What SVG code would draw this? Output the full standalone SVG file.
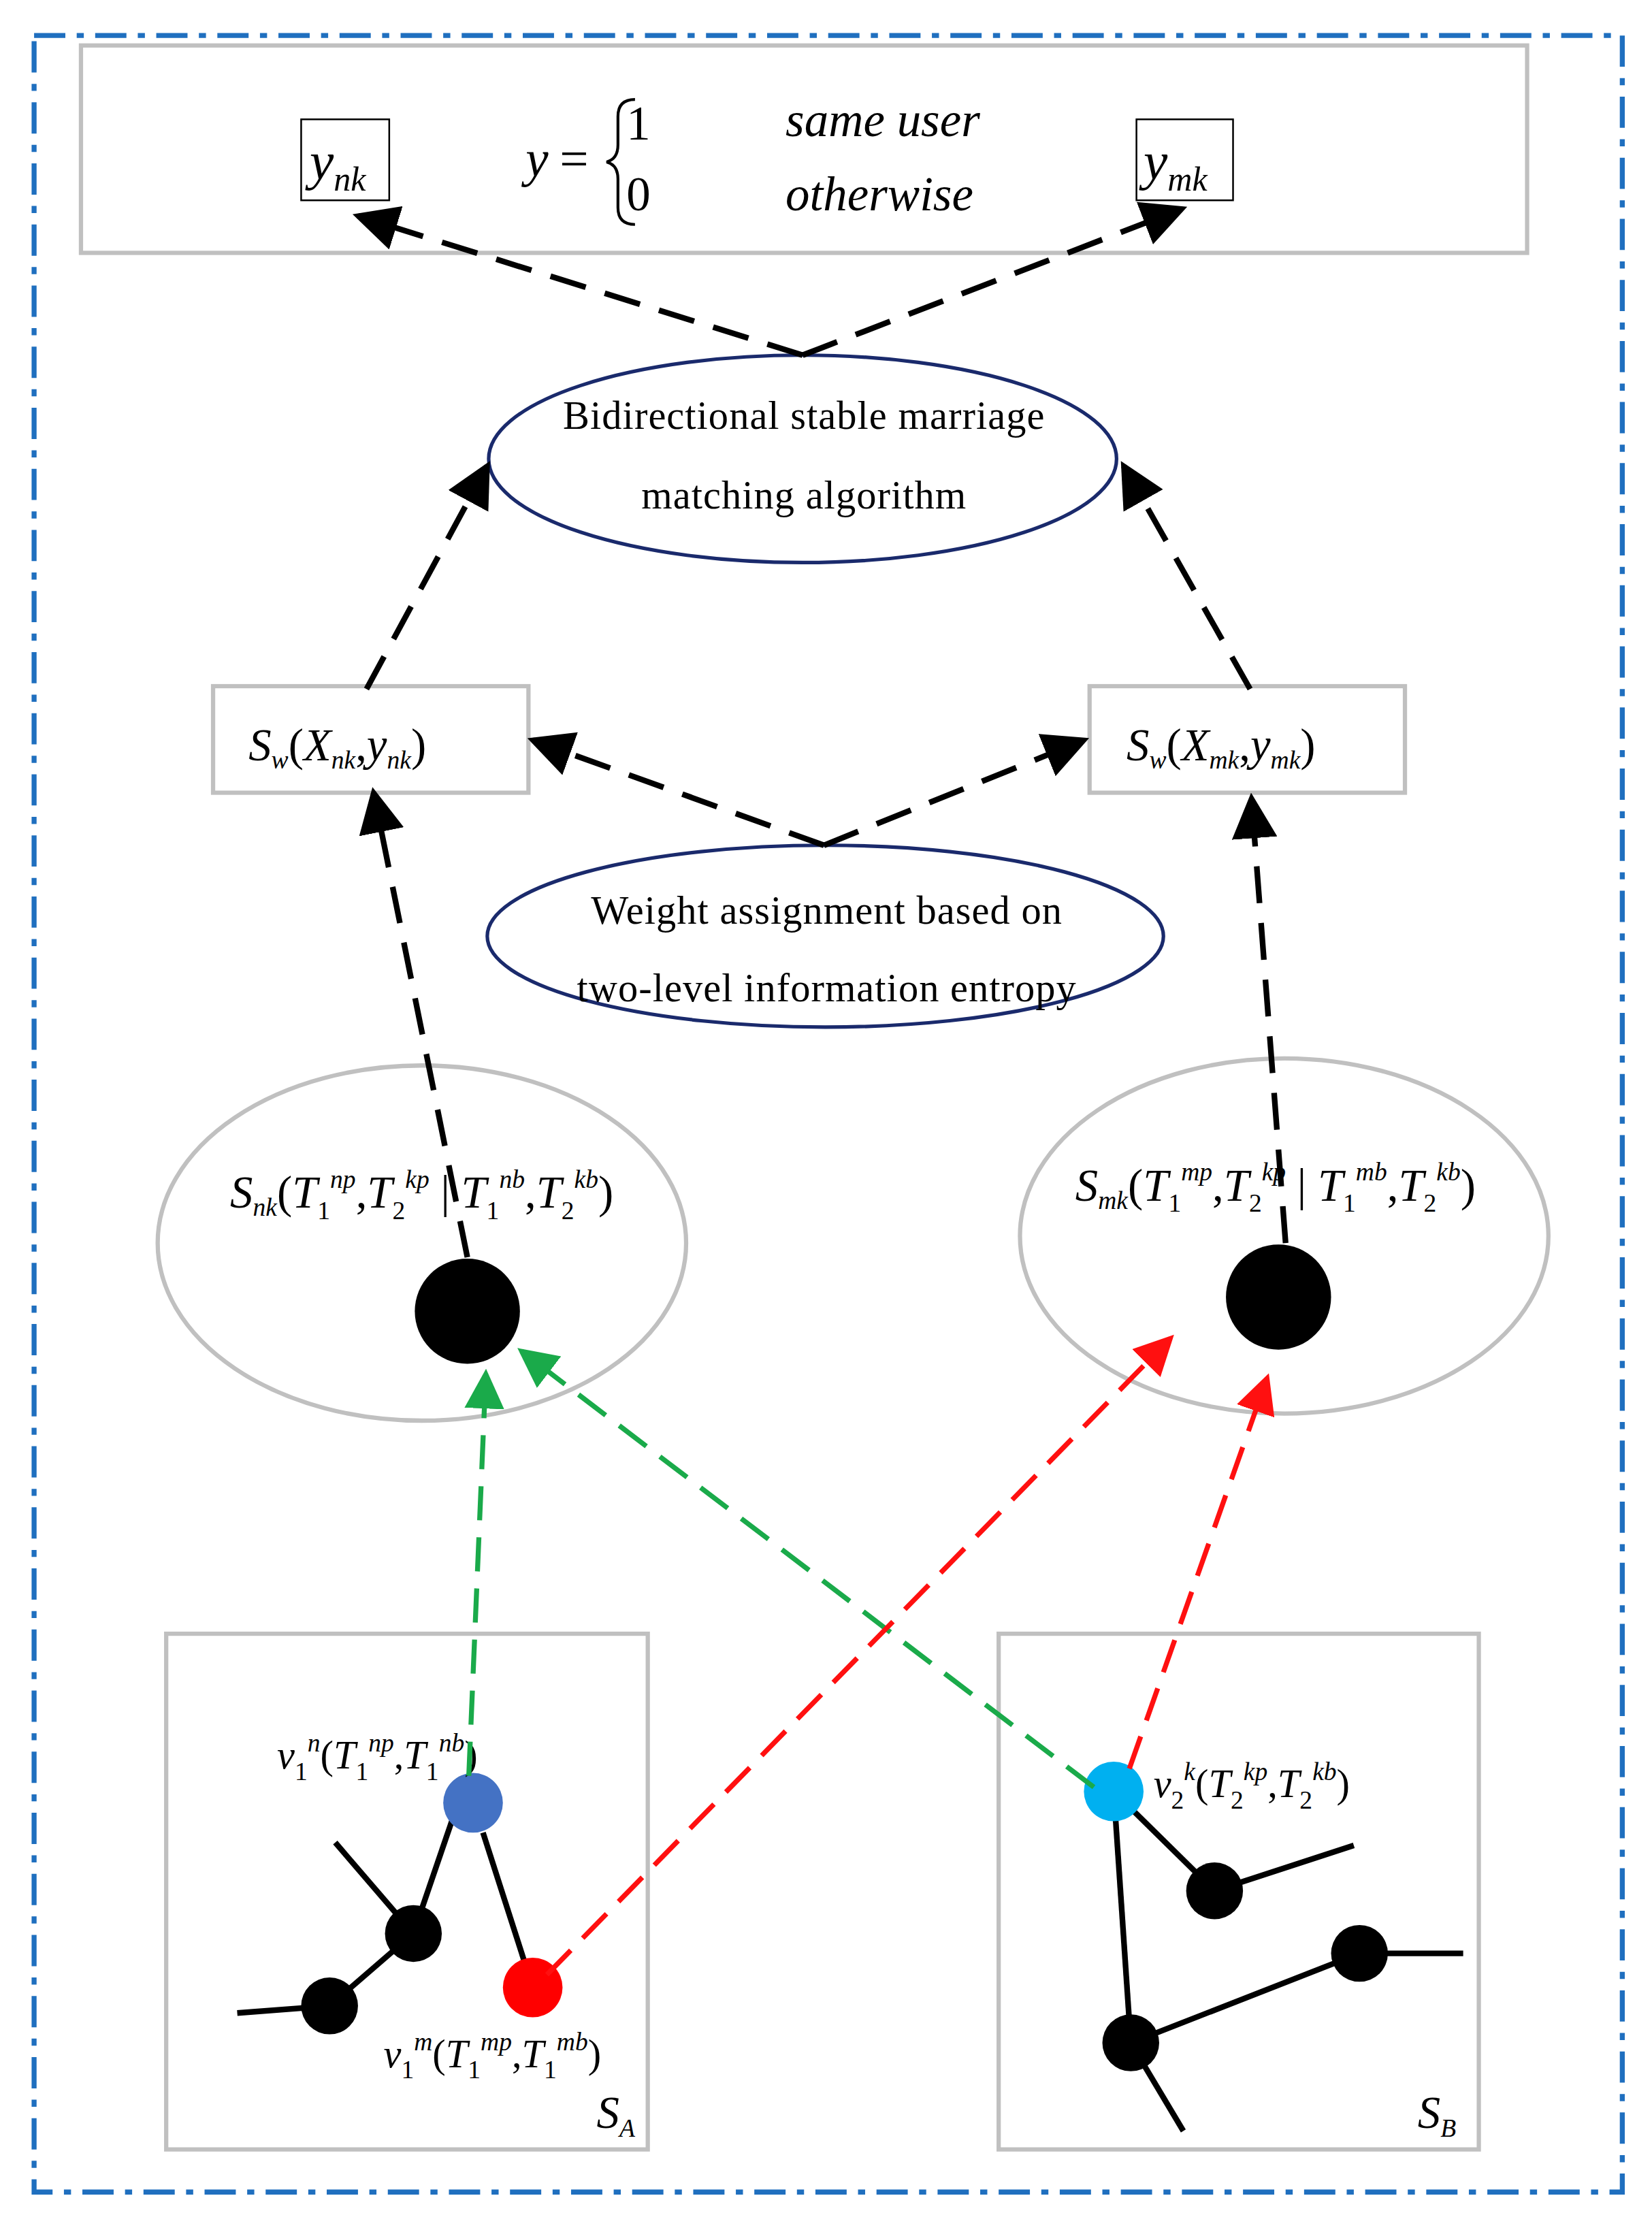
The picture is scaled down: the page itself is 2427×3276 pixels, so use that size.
<svg xmlns="http://www.w3.org/2000/svg" width="2427" height="3276" viewBox="0 0 2427 3276">
<style>
.g{fill:none;stroke:#c0c0c0;stroke-width:3}
.e{fill:#fff;stroke:#1a2a6c;stroke-width:2.5}
.t{font-family:"Liberation Serif",serif;font-size:28px;fill:#000}
.m{font-family:"Liberation Serif",serif;font-style:italic;font-size:32px;fill:#000}
.s{font-size:18px}
.n{font-style:normal}
.k{stroke:#000;stroke-width:4;stroke-dasharray:26 14;fill:none}
.gr{stroke:#1aaa4a;stroke-width:3.5;stroke-dasharray:24 12;fill:none}
.r{stroke:#ff1010;stroke-width:3.5;stroke-dasharray:24 12;fill:none}
.l{stroke:#000;stroke-width:4}
</style>
<defs>
<marker id="ak" markerWidth="8" markerHeight="8" refX="7" refY="4" orient="auto" markerUnits="strokeWidth"><path d="M0,0L8,4L0,8z" fill="#000"/></marker>
<marker id="ag" markerWidth="8" markerHeight="8" refX="7" refY="4" orient="auto" markerUnits="strokeWidth"><path d="M0,0L8,4L0,8z" fill="#1aaa4a"/></marker>
<marker id="ar" markerWidth="8" markerHeight="8" refX="7" refY="4" orient="auto" markerUnits="strokeWidth"><path d="M0,0L8,4L0,8z" fill="#ff1010"/></marker>
</defs>
<rect width="2427" height="3276" fill="#fff"/>
<g transform="scale(2.087)">
<rect x="24" y="25" width="1118" height="1518" fill="none" stroke="#1f6fbf" stroke-width="3.5" stroke-dasharray="22 8 5 8"/>
<g id="top">
<rect class="g" x="57" y="32" width="1018" height="146"/>
<rect x="212" y="84" width="62" height="57" fill="none" stroke="#000" stroke-width="1.2"/>
<text class="m" x="218" y="126" style="font-size:38px">y<tspan style="font-size:24px" dy="8">nk</tspan></text>
<rect x="800" y="84" width="68" height="57" fill="none" stroke="#000" stroke-width="1.2"/>
<text class="m" x="805" y="126" style="font-size:38px">y<tspan style="font-size:24px" dy="8">mk</tspan></text>
<text class="m" x="370" y="124" style="font-size:36px">y</text>
<text class="t" x="394" y="124" style="font-size:36px">=</text>
<path d="M447,70 q-12,0 -12,12 v20 q0,10 -8,12 q8,2 8,12 v20 q0,12 12,12" fill="none" stroke="#000" stroke-width="2"/>
<text class="t" x="441" y="98" style="font-size:34px">1</text>
<text class="t" x="441" y="148" style="font-size:34px">0</text>
<text class="m" x="553" y="96" style="font-size:34px">same user</text>
<text class="m" x="553" y="148" style="font-size:34px">otherwise</text>
</g>
<g id="bsm">
<ellipse class="e" cx="565" cy="323" rx="221" ry="73"/>
<text class="t" x="566" y="302" text-anchor="middle" letter-spacing="0.5">Bidirectional stable marriage</text>
<text class="t" x="566" y="358" text-anchor="middle" letter-spacing="0.5">matching algorithm</text>
</g>
<g id="swn">
<rect class="g" x="150" y="483" width="222" height="75"/>
<text class="m" x="175" y="535">S<tspan class="s" dy="6">w</tspan><tspan class="n" dy="-6">(</tspan>X<tspan class="s" dy="6">nk</tspan><tspan class="n" dy="-6">,</tspan>y<tspan class="s" dy="6">nk</tspan><tspan class="n" dy="-6">)</tspan></text>
</g>
<g id="swm">
<rect class="g" x="767" y="483" width="222" height="75"/>
<text class="m" x="793" y="535">S<tspan class="s" dy="6">w</tspan><tspan class="n" dy="-6">(</tspan>X<tspan class="s" dy="6">mk</tspan><tspan class="n" dy="-6">,</tspan>y<tspan class="s" dy="6">mk</tspan><tspan class="n" dy="-6">)</tspan></text>
</g>
<g id="wa">
<ellipse class="e" cx="581" cy="659" rx="238" ry="64"/>
<text class="t" x="582" y="650" text-anchor="middle" letter-spacing="0.5">Weight assignment based on</text>
<text class="t" x="582" y="705" text-anchor="middle" letter-spacing="0.5">two-level information entropy</text>
</g>
<g id="snk">
<ellipse class="g" cx="297" cy="875" rx="186" ry="125" fill="#fff"/>
<text class="m" x="162" y="850">S<tspan class="s" dy="6">nk</tspan><tspan class="n" dy="-6">(</tspan>T<tspan class="s n" dy="8">1</tspan><tspan class="s" dy="-22">np</tspan><tspan class="n" dy="14">,</tspan>T<tspan class="s n" dy="8">2</tspan><tspan class="s" dy="-22">kp</tspan><tspan class="n" dy="14"> | </tspan>T<tspan class="s n" dy="8">1</tspan><tspan class="s" dy="-22">nb</tspan><tspan class="n" dy="14">,</tspan>T<tspan class="s n" dy="8">2</tspan><tspan class="s" dy="-22">kb</tspan><tspan class="n" dy="14">)</tspan></text>
<circle cx="329" cy="923" r="37" fill="#000"/>
</g>
<g id="smk">
<ellipse class="g" cx="904" cy="870" rx="186" ry="125" fill="#fff"/>
<text class="m" x="757" y="845">S<tspan class="s" dy="6">mk</tspan><tspan class="n" dy="-6">(</tspan>T<tspan class="s n" dy="8">1</tspan><tspan class="s" dy="-22">mp</tspan><tspan class="n" dy="14">,</tspan>T<tspan class="s n" dy="8">2</tspan><tspan class="s" dy="-22">kp</tspan><tspan class="n" dy="14"> | </tspan>T<tspan class="s n" dy="8">1</tspan><tspan class="s" dy="-22">mb</tspan><tspan class="n" dy="14">,</tspan>T<tspan class="s n" dy="8">2</tspan><tspan class="s" dy="-22">kb</tspan><tspan class="n" dy="14">)</tspan></text>
<circle cx="900" cy="913" r="37" fill="#000"/>
</g>
<g id="SA">
<rect class="g" x="117" y="1150" width="339" height="363"/>
<line class="l" x1="318" y1="1282" x2="291" y2="1361"/>
<line class="l" x1="236" y1="1297" x2="291" y2="1361"/>
<line class="l" x1="291" y1="1361" x2="232" y2="1412"/>
<line class="l" x1="232" y1="1412" x2="167" y2="1417"/>
<line class="l" x1="340" y1="1290" x2="375" y2="1399"/>
<circle cx="291" cy="1361" r="20" fill="#000"/>
<circle cx="232" cy="1412" r="20" fill="#000"/>
<circle cx="333" cy="1269" r="21" fill="#4472c4"/>
<circle cx="375" cy="1399" r="21" fill="#ff0000"/>
<text class="m" x="195" y="1245" style="font-size:28px">v<tspan class="s n" dy="8">1</tspan><tspan class="s" dy="-20">n</tspan><tspan class="n" dy="12">(</tspan>T<tspan class="s n" dy="8">1</tspan><tspan class="s" dy="-20">np</tspan><tspan class="n" dy="12">,</tspan>T<tspan class="s n" dy="8">1</tspan><tspan class="s" dy="-20">nb</tspan><tspan class="n" dy="12">)</tspan></text>
<text class="m" x="270" y="1455" style="font-size:28px">v<tspan class="s n" dy="8">1</tspan><tspan class="s" dy="-20">m</tspan><tspan class="n" dy="12">(</tspan>T<tspan class="s n" dy="8">1</tspan><tspan class="s" dy="-20">mp</tspan><tspan class="n" dy="12">,</tspan>T<tspan class="s n" dy="8">1</tspan><tspan class="s" dy="-20">mb</tspan><tspan class="n" dy="12">)</tspan></text>
<text class="m" x="420" y="1498">S<tspan class="s" dy="6">A</tspan></text>
</g>
<g id="SB">
<rect class="g" x="703" y="1150" width="338" height="363"/>
<line class="l" x1="784" y1="1261" x2="855" y2="1331"/>
<line class="l" x1="855" y1="1331" x2="953" y2="1299"/>
<line class="l" x1="784" y1="1261" x2="796" y2="1438"/>
<line class="l" x1="796" y1="1438" x2="957" y2="1375"/>
<line class="l" x1="957" y1="1375" x2="1030" y2="1375"/>
<line class="l" x1="796" y1="1438" x2="833" y2="1500"/>
<circle cx="855" cy="1331" r="20" fill="#000"/>
<circle cx="957" cy="1375" r="20" fill="#000"/>
<circle cx="796" cy="1438" r="20" fill="#000"/>
<circle cx="784" cy="1261" r="21" fill="#00b0f0"/>
<text class="m" x="812" y="1265" style="font-size:28px">v<tspan class="s n" dy="8">2</tspan><tspan class="s" dy="-20">k</tspan><tspan class="n" dy="12">(</tspan>T<tspan class="s n" dy="8">2</tspan><tspan class="s" dy="-20">kp</tspan><tspan class="n" dy="12">,</tspan>T<tspan class="s n" dy="8">2</tspan><tspan class="s" dy="-20">kb</tspan><tspan class="n" dy="12">)</tspan></text>
<text class="m" x="998" y="1498">S<tspan class="s" dy="6">B</tspan></text>
</g>
<g id="connectors">
<line class="k" x1="565" y1="250" x2="252" y2="152" marker-end="url(#ak)"/>
<line class="k" x1="565" y1="250" x2="832" y2="147" marker-end="url(#ak)"/>
<line class="k" x1="258" y1="485" x2="343" y2="328" marker-end="url(#ak)"/>
<line class="k" x1="880" y1="485" x2="791" y2="328" marker-end="url(#ak)"/>
<line class="k" x1="580" y1="595" x2="375" y2="521" marker-end="url(#ak)"/>
<line class="k" x1="580" y1="595" x2="763" y2="521" marker-end="url(#ak)"/>
<line class="k" x1="329" y1="885" x2="263" y2="558" marker-end="url(#ak)"/>
<line class="k" x1="905" y1="875" x2="881" y2="562" marker-end="url(#ak)"/>
<line class="gr" x1="330" y1="1250" x2="342" y2="967" marker-end="url(#ag)"/>
<line class="gr" x1="770" y1="1258" x2="367" y2="951" marker-end="url(#ag)"/>
<line class="r" x1="385" y1="1390" x2="824" y2="942" marker-end="url(#ar)"/>
<line class="r" x1="795" y1="1245" x2="892" y2="970" marker-end="url(#ar)"/>
</g>
</g>
</svg>
